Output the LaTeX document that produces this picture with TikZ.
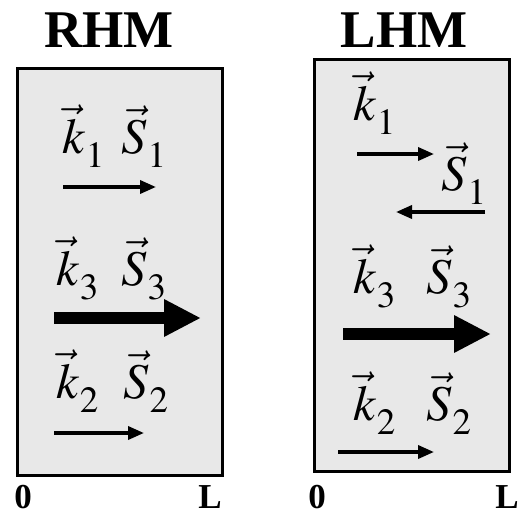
\documentclass[tikz,border=0pt]{standalone}
\usepackage{mathptmx}
\usepackage{fontspec}
\setmainfont{Liberation Serif}
\usetikzlibrary{arrows.meta}
\newcommand{\vsub}[2]{\vec{#1}_{\kern1.5pt\raisebox{-7pt}{$\scriptstyle #2$}}}
\tikzset{
  slab/.style={draw=black, line width=3pt, fill=black!9},
  ttl/.style={font=\fontsize{53}{53}\selectfont\bfseries, anchor=base, inner sep=0pt},
  axl/.style={font=\fontsize{35}{35}\selectfont\bfseries, anchor=base, inner sep=0pt},
  vlab/.style={font=\fontsize{50}{50}\selectfont, anchor=base west, inner sep=0pt},
  thin/.style={line width=3.5pt, -{Triangle[length=16pt,width=13pt]}},
  thick/.style={line width=12pt, -{Triangle[length=37pt,width=35pt]}}
}
\begin{document}
\begin{tikzpicture}[x=1pt,y=-1pt]
\useasboundingbox (0,0) rectangle (520,517);
% boxes
\node[slab, minimum width=205pt, minimum height=407pt, inner sep=0pt] (boxR) at (119.5,271.5) {};
\node[slab, minimum width=195pt, minimum height=412pt, inner sep=0pt] (boxL) at (411.5,265) {};
% titles
\node[ttl] (tR) at (109,47) {RHM};
\node[ttl] (tL) at (404,47) {LHM};
% axis labels
\node[axl] (zR) at (23,508) {0};
\node[axl] (lR) at (210,508) {L};
\node[axl] (zL) at (317,508) {0};
\node[axl] (lL) at (507,508) {L};
% RHM labels
\node[vlab] (rk1) at (62,153) {$\vsub{k}{1}$};
\node[vlab] (rs1) at (121,153) {$\vsub{S}{1}$};
\node[vlab] (rk3) at (56,285) {$\vsub{k}{3}$};
\node[vlab] (rs3) at (121,285) {$\vsub{S}{3}$};
\node[vlab] (rk2) at (56,398) {$\vsub{k}{2}$};
\node[vlab] (rs2) at (123,398) {$\vsub{S}{2}$};
% RHM arrows
\coordinate (ra1s) at (63,187); \coordinate (ra1e) at (156,187);
\coordinate (ra3s) at (54,318); \coordinate (ra3e) at (201,318);
\coordinate (ra2s) at (54,433); \coordinate (ra2e) at (144,433);
\draw[thin] (ra1s) -- (ra1e);
\draw[thick] (ra3s) -- (ra3e);
\draw[thin] (ra2s) -- (ra2e);
% LHM labels
\node[vlab] (lk1) at (353,120) {$\vsub{k}{1}$};
\node[vlab] (ls1) at (441,190) {$\vsub{S}{1}$};
\node[vlab] (lk3) at (353,293) {$\vsub{k}{3}$};
\node[vlab] (ls3) at (426,293) {$\vsub{S}{3}$};
\node[vlab] (lk2) at (353,420) {$\vsub{k}{2}$};
\node[vlab] (ls2) at (426,420) {$\vsub{S}{2}$};
% LHM arrows
\coordinate (la1s) at (357,154); \coordinate (la1e) at (434,154);
\coordinate (lb1s) at (485,212); \coordinate (lb1e) at (396,212);
\coordinate (la3s) at (343,334); \coordinate (la3e) at (491,334);
\coordinate (la2s) at (338,452); \coordinate (la2e) at (434,452);
\draw[thin] (la1s) -- (la1e);
\draw[thin] (lb1s) -- (lb1e);
\draw[thick] (la3s) -- (la3e);
\draw[thin] (la2s) -- (la2e);
\end{tikzpicture}
\end{document}
